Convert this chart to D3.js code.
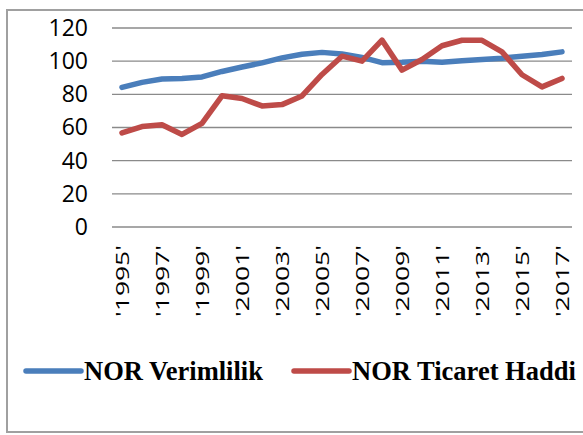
<!DOCTYPE html>
<html>
<head>
  <meta charset="utf-8"/>
  <title>NOR Verimlilik / Ticaret Haddi</title>
  <style>
    body { margin: 0; background: #fff; }
  </style>
  <script src="https://d3js.org/d3.v7.min.js"></script>
</head>
<body>
<div id="my_dataviz"></div>
<script>
// years on the x axis (labels keep the quote marks, as in the original)
var years = ["'1995'","'1996'","'1997'","'1998'","'1999'","'2000'","'2001'","'2002'","'2003'","'2004'","'2005'","'2006'",
             "'2007'","'2008'","'2009'","'2010'","'2011'","'2012'","'2013'","'2014'","'2015'","'2016'","'2017'"]

var verimlilik = [84.2, 87.2, 89.2, 89.5, 90.5, 93.8, 96.5, 99, 102, 104.2, 105.3, 104.3,
                  102.3, 99.1, 99.3, 100, 99.3, 100.2, 101, 101.8, 103, 104, 105.6]

var ticaretHaddi = [56.8, 60.6, 61.6, 55.8, 62.5, 79.1, 77.5, 73, 73.8, 79, 92, 103,
                    100, 112.7, 94.6, 101, 109.3, 112.6, 112.6, 105.6, 91.8, 84.5, 89.6]

var yTicks = [0, 20, 40, 60, 80, 100, 120]

var seriesNames = ["NOR Verimlilik", "NOR Ticaret Haddi"]
var seriesColors = ["#4a7ebb", "#be4b48"]

var width = 583, height = 435

var svg = d3.select("#my_dataviz")
  .append("svg")
    .attr("width", width)
    .attr("height", height)

// chart frame (right side runs off the picture)
svg.append("rect")
  .attr("x", 7).attr("y", 10)
  .attr("width", 600).attr("height", 422)
  .attr("fill", "none")
  .attr("stroke", "#a0a0a0")
  .attr("stroke-width", 2)

var x = d3.scaleBand()
  .domain(years)
  .range([112, 572])

var y = d3.scaleLinear()
  .domain([0, 120])
  .range([227, 28])

// gridlines
svg.append("g")
  .selectAll("line")
  .data(yTicks)
  .enter()
  .append("line")
    .attr("x1", 112).attr("x2", 572)
    .attr("y1", function(d) { return y(d) })
    .attr("y2", function(d) { return y(d) })
    .attr("stroke", "#8a8a8a")
    .attr("stroke-width", 1.4)

// y labels
var yAxis = d3.axisLeft(y).tickValues(yTicks).tickSize(0).tickPadding(0)
var gy = svg.append("g")
  .attr("transform", "translate(88,0)")
  .call(yAxis)
gy.select(".domain").remove()
gy.selectAll("text")
  .attr("font-family", "'Open Sans', sans-serif")
  .attr("font-size", "23px")
  .attr("fill", "#000")

// x labels, every second year, rotated; the original glyphs are stretched
// along the text direction, so scale each label to ~72px long
var xLabels = svg.append("g")
  .selectAll("text")
  .data(years.filter(function(d, i) { return i % 2 == 0 }))
  .enter()
  .append("text")
    .attr("text-anchor", "end")
    .attr("dominant-baseline", "central")
    .attr("font-family", "'Open Sans', sans-serif")
    .attr("font-size", "18px")
    .attr("fill", "#000")
    .text(function(d) { return d })

xLabels.attr("transform", function(d) {
  var sx = 72 / this.getComputedTextLength()
  return "translate(" + (x(d) + x.bandwidth() / 2) + ",245) rotate(-90) scale(" + sx + ",1)"
})

var line = d3.line()
  .x(function(d, i) { return x(years[i]) + x.bandwidth() / 2 })
  .y(function(d) { return y(d) })

var allSeries = [verimlilik, ticaretHaddi]

svg.append("g")
  .selectAll("path")
  .data(allSeries)
  .enter()
  .append("path")
    .attr("d", line)
    .attr("fill", "none")
    .attr("stroke", function(d, i) { return seriesColors[i] })
    .attr("stroke-width", 5.5)
    .attr("stroke-linejoin", "round")
    .attr("stroke-linecap", "round")

// legend
var legendX = [26, 294]
var legend = svg.append("g")
  .selectAll("g")
  .data(seriesNames)
  .enter()
  .append("g")
    .attr("transform", function(d, i) { return "translate(" + legendX[i] + ",371)" })

legend.append("line")
  .attr("x1", 0).attr("x2", 55)
  .attr("y1", 0).attr("y2", 0)
  .attr("stroke", function(d, i) { return seriesColors[i] })
  .attr("stroke-width", 5.5)
  .attr("stroke-linecap", "round")

legend.append("text")
  .attr("x", 58)
  .attr("y", 9)
  .attr("font-family", "'Liberation Serif', 'Times New Roman', serif")
  .attr("font-weight", "bold")
  .attr("font-size", "26.5px")
  .attr("fill", "#000")
  .text(function(d) { return d })
</script>
</body>
</html>
